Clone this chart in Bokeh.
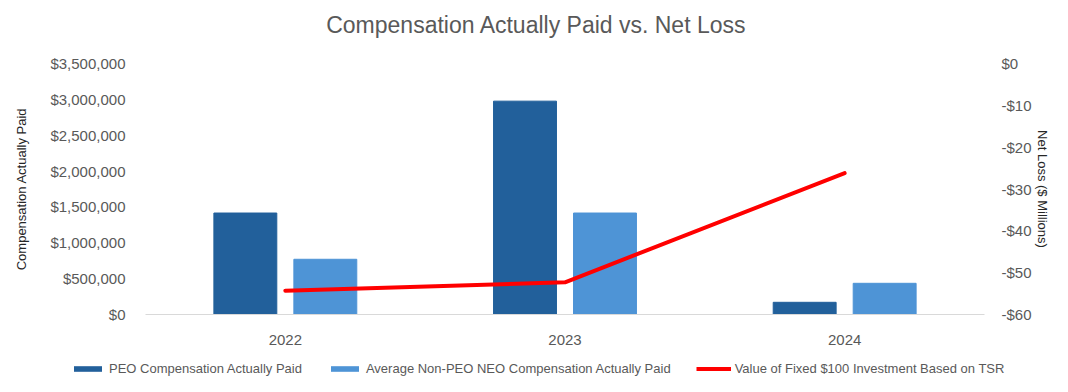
from bokeh.plotting import figure
from bokeh.layouts import column
from bokeh.models import (ColumnDataSource, FactorRange, Range1d, LinearAxis, FixedTicker,
                          NumeralTickFormatter, Legend, LegendItem, Label)
from bokeh.transform import dodge
from bokeh.embed import file_html
from bokeh.resources import INLINE

years = ["2022", "2023", "2024"]
peo_cap = [1415000, 2975000, 170000]
neo_cap = [770000, 1415000, 435000]
net_loss = [-54.3, -52.3, -26.2]
left_ticks = [0, 500000, 1000000, 1500000, 2000000, 2500000, 3000000, 3500000]
right_ticks = [-60, -50, -40, -30, -20, -10, 0]
series_names = ["PEO Compensation Actually Paid",
                "Average Non-PEO NEO Compensation Actually Paid",
                "Value of Fixed $100 Investment Based on TSR"]
chart_title = "Compensation Actually Paid vs. Net Loss"

FONT = "Liberation Sans"
GRAY = "#595959"
DARK = "#22609B"
LIGHT = "#4E94D6"
RED = "#FF0000"
W = 1052

src = ColumnDataSource(dict(year=years, peo=peo_cap, neo=neo_cap, loss=net_loss))


def strip(height, x_range, y_range):
    f = figure(width=W, height=height, x_range=x_range, y_range=y_range,
               output_backend="svg", toolbar_location=None, x_axis_type=None, y_axis_type=None,
               min_border_left=0, min_border_right=0, min_border_top=0, min_border_bottom=0)
    f.outline_line_color = None
    f.xgrid.grid_line_color = None
    f.ygrid.grid_line_color = None
    f.frame_align = False
    return f


# title strip
tf = strip(40, Range1d(0, 1), Range1d(0, 1))
tf.add_layout(Label(x=0.5095, y=0.38, text=chart_title, text_align="center",
                    text_baseline="middle", text_font=FONT, text_font_size="23px",
                    text_color=GRAY))

# main chart
p = figure(width=W, height=307, x_range=FactorRange(*years), y_range=Range1d(0, 3500000),
           output_backend="svg", toolbar_location=None,
           min_border_left=145, min_border_right=60, min_border_top=23, min_border_bottom=33)
p.extra_y_ranges = {"loss": Range1d(-60, 0)}

p.vbar(x=dodge("year", -0.143, range=p.x_range), top="peo", width=0.225, source=src, color=DARK)
p.vbar(x=dodge("year", 0.143, range=p.x_range), top="neo", width=0.225, source=src, color=LIGHT)
p.line(x="year", y="loss", source=src, y_range_name="loss", line_color=RED,
       line_width=4, line_cap="round", line_join="round")

p.outline_line_color = None
p.xgrid.grid_line_color = None
p.ygrid.grid_line_color = None

ya = p.yaxis[0]
ya.ticker = FixedTicker(ticks=left_ticks)
ya.formatter = NumeralTickFormatter(format="$0,0")
ya.axis_line_color = None
ya.major_tick_line_color = None
ya.minor_tick_line_color = None
ya.major_label_standoff = 14
ya.major_label_text_font = FONT
ya.major_label_text_font_size = "15px"
ya.major_label_text_color = GRAY
ya.axis_label = "Compensation Actually Paid"
ya.axis_label_text_font = FONT
ya.axis_label_text_font_size = "13px"
ya.axis_label_text_font_style = "normal"
ya.axis_label_text_color = "#262626"
ya.axis_label_standoff = 18

ra = LinearAxis(y_range_name="loss", ticker=FixedTicker(ticks=right_ticks),
                formatter=NumeralTickFormatter(format="$0"))
ra.axis_line_color = None
ra.major_tick_line_color = None
ra.minor_tick_line_color = None
ra.major_label_standoff = 11
ra.major_label_text_font = FONT
ra.major_label_text_font_size = "15px"
ra.major_label_text_color = GRAY
ra.axis_label = "Net Loss ($ Millions)"
ra.axis_label_text_font = FONT
ra.axis_label_text_font_size = "13px"
ra.axis_label_text_font_style = "normal"
ra.axis_label_text_color = "#262626"
ra.axis_label_standoff = 0
p.add_layout(ra, "right")

xa = p.xaxis[0]
xa.axis_line_color = "#D9D9D9"
xa.axis_line_width = 1
xa.major_tick_line_color = None
xa.minor_tick_line_color = None
xa.major_label_standoff = 14
xa.major_label_text_font = FONT
xa.major_label_text_font_size = "15px"
xa.major_label_text_color = GRAY

# legend strip: same series, shifted far outside its visible x range so only the legend shows
lg = strip(29, FactorRange(*years), Range1d(-100, 3500000))
far = dodge("year", 12, range=lg.x_range)
k1 = lg.vbar(x=far, top="peo", width=0.225, source=src, fill_color=DARK, line_color=None)
k2 = lg.vbar(x=far, top="neo", width=0.225, source=src, fill_color=LIGHT, line_color=None)
k3 = lg.line(x=far, y="peo", source=src, line_color=RED, line_width=4)

legend = Legend(items=[LegendItem(label=series_names[0], renderers=[k1]),
                       LegendItem(label=series_names[1], renderers=[k2]),
                       LegendItem(label=series_names[2], renderers=[k3])],
                orientation="horizontal", location=(70, 0))
legend.glyph_width = 35
legend.glyph_height = 7
legend.label_height = 15
legend.label_standoff = 4
legend.spacing = 25
legend.padding = 2
legend.margin = 0
legend.border_line_color = None
legend.background_fill_alpha = 0
legend.label_text_font = FONT
legend.label_text_font_size = "13px"
legend.label_text_color = GRAY
lg.add_layout(legend, "center")

layout = column(tf, p, lg, spacing=0)
open("out.html", "w").write(file_html(layout, INLINE))
